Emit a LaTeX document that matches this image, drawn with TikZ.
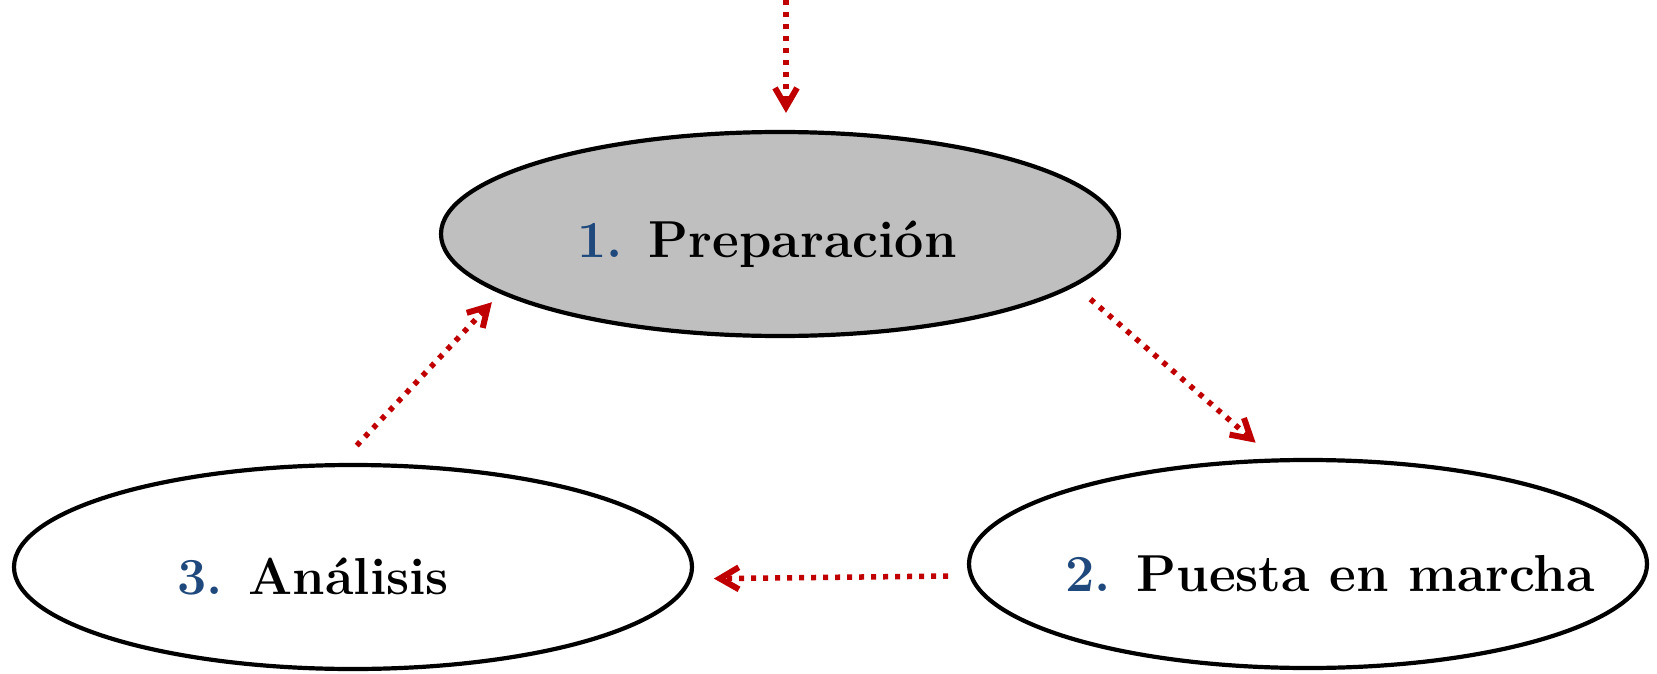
\documentclass[tikz,border=0pt]{standalone}
\usepackage{tikz}
\usetikzlibrary{arrows.meta,shapes.geometric}
\definecolor{colazul}{RGB}{31,73,125}
\definecolor{colrojo}{RGB}{192,0,0}
\definecolor{colgris}{RGB}{191,191,191}

\begin{document}
\begin{tikzpicture}[
  x=1pt, y=-1pt,
  fase/.style={ellipse, draw=black, line width=4.2pt, fill=white,
               minimum width=678pt, minimum height=204pt, inner sep=0pt},
  texto/.style={font=\fontsize{52}{60}\selectfont\bfseries, inner sep=0pt, yshift=-10pt},
  flecha/.style={-{Straight Barb[length=19pt, width=22pt, line width=6pt]},
                 line width=5.5pt, dash pattern=on 5pt off 7pt, color=colrojo}
]
  \useasboundingbox (0,0) rectangle (1657,674);

  \node[fase, fill=colgris, label={[texto, xshift=-13pt]center:{\textcolor{colazul}{1.} Preparación}}] (prep) at (780,234) {};
  \node[fase, minimum height=208pt, label={[texto, xshift=22pt]center:{\textcolor{colazul}{2.} Puesta en marcha}}] (puesta) at (1308,564) {};
  \node[fase, label={[texto, xshift=-40pt]center:{\textcolor{colazul}{3.} Análisis}}] (analisis) at (353,567) {};
  \coordinate (entrada) at (786,0);

  \draw[flecha, shorten >=17pt] (entrada) -- (entrada |- prep.north);
  \draw[flecha, shorten <=20pt, shorten >=24pt] (prep.-10) -- (puesta.108);
  \draw[flecha, shorten <=21pt, shorten >=22pt] (puesta.182) -- (analisis.-2);
  \draw[flecha, shorten <=24pt, shorten >=12pt] (analisis.97.6) -- (prep.-168.7);
\end{tikzpicture}
\end{document}
